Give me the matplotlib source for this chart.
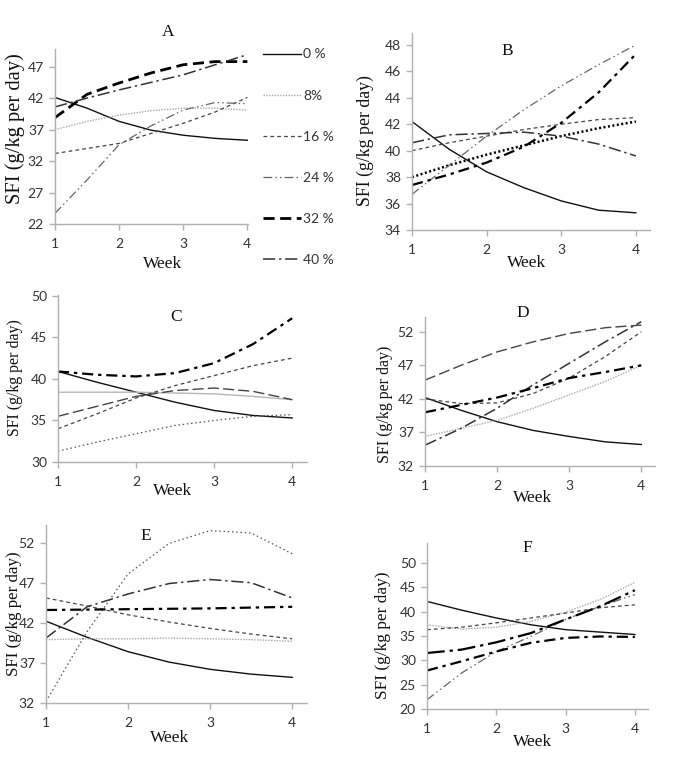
import matplotlib
matplotlib.use("Agg")
import matplotlib.pyplot as plt

W, H = 675, 768

WEEKS = [1, 1.5, 2, 2.5, 3, 3.5, 4]
SERIES = ["0 %", "8%", "16 %", "24 %", "32 %", "40 %"]

A_0 = [42.1, 40.4, 38.3, 36.9, 36.1, 35.6, 35.3]
A_8 = [37.0, 38.3, 39.3, 40.0, 40.4, 40.4, 40.1]
A_16 = [33.2, 34.0, 34.8, 36.4, 38.0, 39.8, 42.1]
A_24 = [23.7, 29.0, 34.6, 37.6, 40.1, 41.3, 41.1]
A_32 = [38.9, 42.6, 44.4, 46.0, 47.3, 47.8, 47.8]
A_40 = [40.6, 42.0, 43.3, 44.5, 45.7, 47.3, 48.9]

B_0 = [42.2, 40.1, 38.4, 37.2, 36.2, 35.5, 35.3]
B_8 = [38.0, 38.9, 39.7, 40.4, 41.1, 41.7, 42.2]
B_16 = [40.0, 40.6, 41.1, 41.6, 42.0, 42.35, 42.5]
B_24 = [36.7, 38.9, 41.1, 43.1, 44.9, 46.5, 48.0]
B_32 = [37.4, 38.2, 39.1, 40.3, 42.1, 44.4, 47.3]
B_40 = [40.6, 41.2, 41.3, 41.4, 41.1, 40.5, 39.6]

C_0 = [40.9, 39.6, 38.4, 37.2, 36.2, 35.6, 35.3]
C_8 = [38.4, 38.4, 38.4, 38.3, 38.2, 37.9, 37.5]
C_16 = [34.0, 35.8, 37.7, 39.2, 40.4, 41.6, 42.5]
C_24 = [35.5, 36.7, 37.9, 38.6, 38.9, 38.5, 37.5]
C_32 = [40.9, 40.5, 40.3, 40.7, 41.9, 44.2, 47.3]
C_40 = [31.3, 32.4, 33.4, 34.4, 35.0, 35.5, 35.7]

D_0 = [42.2, 40.3, 38.6, 37.3, 36.4, 35.6, 35.2]
D_8 = [36.4, 37.6, 38.8, 40.6, 42.6, 44.6, 47.0]
D_16 = [42.0, 41.3, 41.4, 42.8, 45.1, 48.3, 52.0]
D_24 = [35.1, 37.6, 40.6, 44.1, 47.3, 50.5, 53.5]
D_32 = [40.0, 41.1, 42.2, 43.6, 45.1, 46.0, 47.0]
D_40 = [44.8, 47.0, 49.0, 50.5, 51.75, 52.6, 53.0]

E_0 = [42.2, 40.2, 38.4, 37.1, 36.2, 35.6, 35.2]
E_8 = [39.9, 40.0, 40.0, 40.1, 40.0, 39.9, 39.7]
E_16 = [45.1, 44.1, 43.0, 42.1, 41.3, 40.6, 40.0]
E_24 = [32.2, 40.9, 48.1, 51.9, 53.5, 53.2, 50.6]
E_32 = [43.6, 43.65, 43.7, 43.75, 43.8, 43.9, 44.0]
E_40 = [40.1, 44.0, 45.6, 46.9, 47.4, 47.0, 45.1]

F_0 = [42.1, 40.3, 38.7, 37.3, 36.3, 35.8, 35.3]
F_8 = [37.3, 36.4, 36.8, 38.0, 39.9, 42.5, 46.0]
F_16 = [36.3, 36.8, 37.7, 38.7, 39.7, 40.8, 41.4]
F_24 = [21.9, 27.4, 31.8, 34.9, 38.4, 41.1, 43.5]
F_32 = [31.5, 32.2, 33.7, 35.6, 38.4, 41.1, 44.4]
F_40 = [27.9, 29.8, 31.8, 33.6, 34.6, 34.9, 34.8]

A_TICKS = [22, 27, 32, 37, 42, 47]
B_TICKS = [34, 36, 38, 40, 42, 44, 46, 48]
C_TICKS = [30, 35, 40, 45, 50]
D_TICKS = [32, 37, 42, 47, 52]
E_TICKS = [32, 37, 42, 47, 52]
F_TICKS = [20, 25, 30, 35, 40, 45, 50]
X_TICKS = [1, 2, 3, 4]

STYLES = {
    "solid": dict(color="#111111", lw=1.0, ls="-"),
    "lightsolid": dict(color="#b5b5b5", lw=1.0, ls="-"),
    "lightdot": dict(color="#a8a8a8", lw=1.0, ls=(0, (1, 1))),
    "dot": dict(color="#555555", lw=0.9, ls=(0, (1.2, 2.2))),
    "thickdot": dict(color="#000000", lw=1.8, ls=(0, (0.8, 1.0))),
    "shortdash": dict(color="#444444", lw=0.9, ls=(0, (3, 2.5))),
    "dashdotdot": dict(color="#666666", lw=0.9, ls=(0, (7, 2.5, 1.2, 2.5, 1.2, 2.5))),
    "thickdash": dict(color="#000000", lw=2.0, ls=(0, (4, 2))),
    "dashdot": dict(color="#333333", lw=1.1, ls=(0, (8, 2.5, 1.5, 2.5))),
    "thickdashdot": dict(color="#000000", lw=1.6, ls=(0, (5, 2.2, 1.5, 2.2))),
    "thicklongdashdot": dict(color="#000000", lw=1.6, ls=(0, (8, 2.2, 1.5, 2.2))),
    "longdash": dict(color="#444444", lw=1.0, ls=(0, (8, 3))),
}

SERIF = ["Liberation Serif", "DejaVu Serif"]
SANS = ["Lato", "DejaVu Sans"]

fig = plt.figure(figsize=(W / 100, H / 100), dpi=100)


def px_axes(l, t, r, b):
    return fig.add_axes([l / W, 1 - b / H, (r - l) / W, (b - t) / H])


def ftext(x, y, s, **kw):
    fig.text(x / W, 1 - y / H, s, **kw)


panels = [
    # name, data, ticks, box (l, t, r, b), ylim, xmax, styles, title xy, ylabel xy size, week xy
    ("A", [A_0, A_8, A_16, A_24, A_32, A_40], A_TICKS, (55, 49, 248, 224), (22, 49.8), 4.01,
     ["solid", "lightdot", "shortdash", "dashdotdot", "thickdash", "dashdot"],
     (168, 32), (15, 129, 14.8), (163, 264)),
    ("B", [B_0, B_8, B_16, B_24, B_32, B_40], B_TICKS, (412, 33, 650, 230), (34, 48.9), 4.19,
     ["solid", "thickdot", "shortdash", "dashdotdot", "thickdashdot", "dashdot"],
     (507, 51), (365, 141, 12.8), (527, 263)),
    ("C", [C_0, C_8, C_16, C_24, C_32, C_40], C_TICKS, (58, 295, 307, 462), (30, 50.1), 4.19,
     ["solid", "lightsolid", "shortdash", "longdash", "thickdashdot", "dot"],
     (176, 317), (15, 378, 11.4), (173, 491)),
    ("D", [D_0, D_8, D_16, D_24, D_32, D_40], D_TICKS, (425, 317, 655, 466), (32, 54.2), 4.19,
     ["solid", "lightdot", "shortdash", "dashdot", "thickdashdot", "longdash"],
     (523, 313), (385, 404, 11.5), (533, 498)),
    ("E", [E_0, E_8, E_16, E_24, E_32, E_40], E_TICKS, (46, 525, 307, 703), (32, 54.2), 4.18,
     ["solid", "lightdot", "shortdash", "dot", "thickdashdot", "dashdot"],
     (146, 536), (14, 614, 12.2), (170, 738)),
    ("F", [F_0, F_8, F_16, F_24, F_32, F_40], F_TICKS, (427, 543, 648, 709), (20, 54.1), 4.19,
     ["solid", "lightdot", "shortdash", "dashdotdot", "thicklongdashdot", "thickdashdot"],
     (527, 548), (383, 635, 12.4), (533, 742)),
]

legend_handles = None
for name, data, yticks, box, ylim, xmax, styles, txy, ylab, wxy in panels:
    ax = px_axes(*box)
    handles = []
    for vals, st in zip(data, styles):
        (ln,) = ax.plot(WEEKS, vals, **STYLES[st])
        handles.append(ln)
    if name == "A":
        legend_handles = handles
    ax.set_xlim(1, xmax)
    ax.set_ylim(*ylim)
    ax.set_xticks(X_TICKS)
    ax.set_yticks(yticks)
    for s in ("top", "right"):
        ax.spines[s].set_visible(False)
    for s in ("left", "bottom"):
        ax.spines[s].set_color("#b0b0b0")
        ax.spines[s].set_linewidth(1.0)
    ax.tick_params(axis="both", color="#b0b0b0", length=4, width=1.0,
                   labelcolor="#333333", labelsize=10)
    ax.tick_params(axis="x", pad=6)
    ax.tick_params(axis="y", pad=4)
    for lab in ax.get_xticklabels() + ax.get_yticklabels():
        lab.set_family(SANS)
    ax.set_facecolor("none")
    ftext(txy[0], txy[1], name, family=SERIF, fontsize=12.5, ha="center", va="center",
          color="#111111")
    ftext(ylab[0], ylab[1], "SFI (g/kg per day)", family=SERIF, fontsize=ylab[2],
          rotation=90, ha="center", va="center", color="#111111")
    ftext(wxy[0], wxy[1], "Week", family=SERIF, fontsize=12.5, ha="center", va="center",
          color="#111111")

leg = fig.legend(legend_handles, SERIES, loc="upper left",
                 bbox_to_anchor=(250 / W, 1 - 36 / H), frameon=False,
                 prop=dict(family=SANS, size=10), handlelength=2.8,
                 handletextpad=0.15, labelspacing=2.1, labelcolor="#333333")

fig.savefig("out.png", dpi=100)
